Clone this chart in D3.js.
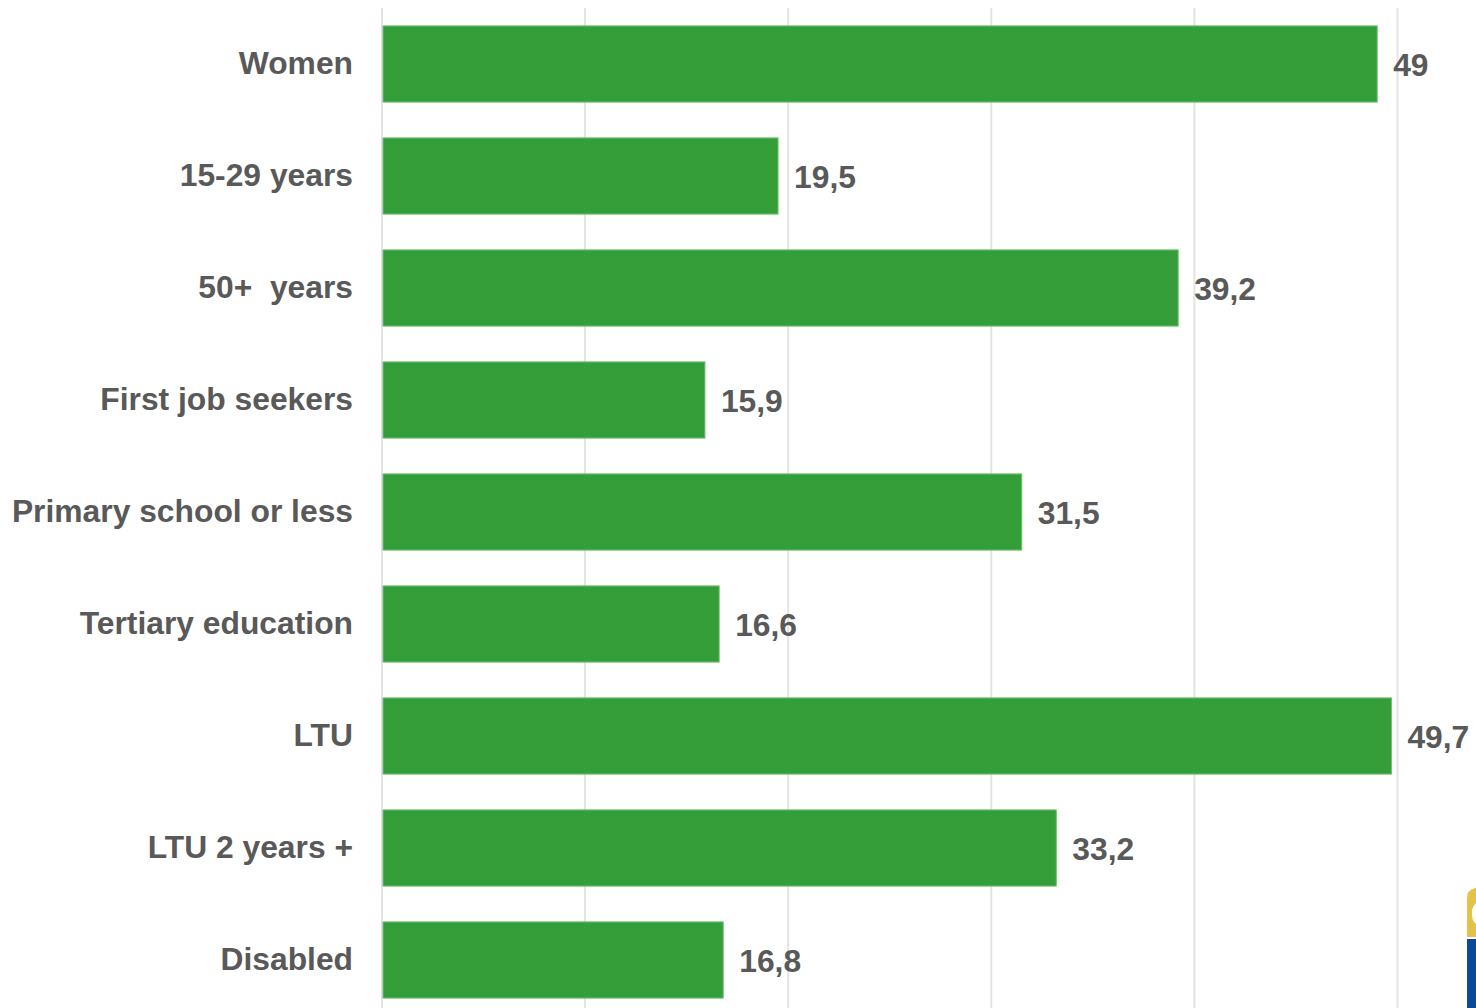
<!DOCTYPE html>
<html><head><meta charset="utf-8">
<script src="https://cdn.jsdelivr.net/npm/d3@7"></script>
<style>html,body{margin:0;padding:0;background:#fff;overflow:hidden}</style>
</head><body>
<svg id="c" width="1476" height="1008"></svg>
<script>
const categories = ["Women","15-29 years","50+  years","First job seekers","Primary school or less","Tertiary education","LTU","LTU 2 years +","Disabled"];
const values = [49,19.5,39.2,15.9,31.5,16.6,49.7,33.2,16.8];
const valueLabels = ["49","19,5","39,2","15,9","31,5","16,6","49,7","33,2","16,8"];
const gridTicks = [0,10,20,30,40,50];

const svg = d3.select("#c");
const x = d3.scaleLinear().domain([0,50]).range([382,1397.5]);
const y = d3.scaleBand().domain(categories).range([8,1016]).paddingInner(0.32).paddingOuter(0.16);

svg.append("g").selectAll("line").data(gridTicks).join("line")
  .attr("x1",d=>x(d)).attr("x2",d=>x(d)).attr("y1",8).attr("y2",1008)
  .attr("stroke","#e3e3e3").attr("stroke-width",2);

svg.append("g").selectAll("rect").data(values).join("rect")
  .attr("x",x(0)+1).attr("y",(d,i)=>y(categories[i]))
  .attr("width",d=>x(d)-x(0)-1).attr("height",y.bandwidth())
  .attr("fill","#359e38").attr("stroke","#6cbf6c").attr("stroke-width",1);

svg.append("g").selectAll("text").data(categories).join("text")
  .attr("x",353).attr("y",d=>y(d)+y.bandwidth()/2-1)
  .attr("text-anchor","end").attr("dominant-baseline","central")
  .attr("font-family","'Liberation Sans', Arial, sans-serif").attr("font-weight","bold")
  .attr("font-size",31.8).attr("fill","#595959").style("white-space","pre")
  .text(d=>d);

svg.append("g").selectAll("text").data(values).join("text")
  .attr("x",d=>x(d)+16).attr("y",(d,i)=>y(categories[i])+y.bandwidth()/2+1)
  .attr("dominant-baseline","central")
  .attr("font-family","'Liberation Sans', Arial, sans-serif").attr("font-weight","bold")
  .attr("font-size",31.8).attr("fill","#595959")
  .text((d,i)=>valueLabels[i]);

// logo fragment bottom-right
const logo = svg.append("g");
logo.append("path").attr("d","M1467,937 L1467,898 Q1467,890 1475,888 L1476,888 L1476,937 Z").attr("fill","#e3c24a");
logo.append("path").attr("d","M1476,903 Q1471,908 1472,916 Q1473,922 1476,924 Z").attr("fill","#fff");
logo.append("rect").attr("x",1467).attr("y",939).attr("width",9).attr("height",69).attr("fill","#0b4a99");
</script>
</body></html>
